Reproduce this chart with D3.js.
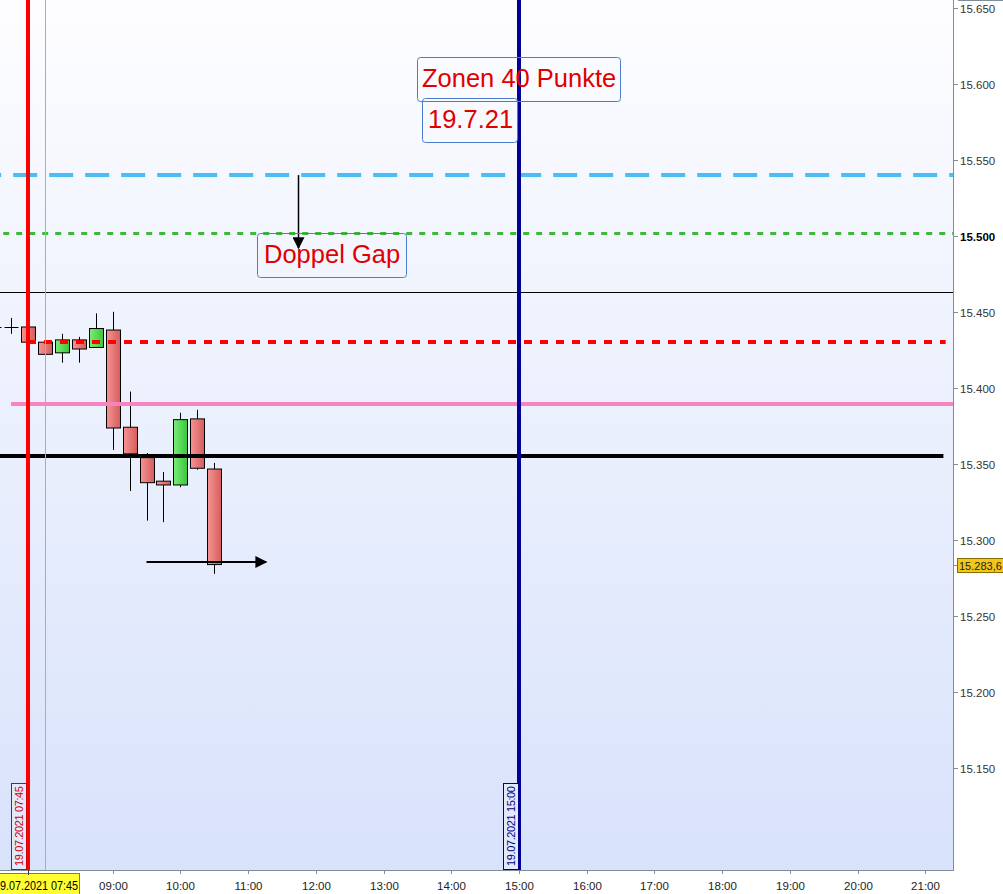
<!DOCTYPE html>
<html>
<head>
<meta charset="utf-8">
<script src="https://cdn.jsdelivr.net/npm/d3@7"></script>
<style>
  body { margin: 0; background: #fff; }
  svg { display: block; font-family: "Liberation Sans", Arial, sans-serif; }
</style>
</head>
<body>
<div id="chart"></div>
<script>
// candle data, 15 minute bars on 19.07.2021
const candleTimes = ['07:15','07:30','07:45','08:00','08:15','08:30','08:45','09:00','09:15','09:30','09:45','10:00','10:15','10:30']
const opens  = [15440, 15440, 15440, 15430, 15423, 15431.5, 15426.5, 15438, 15374, 15354, 15338.5, 15336, 15379.5, 15346.5]
const highs  = [15440, 15446, 15440, 15449, 15435.5, 15433.5, 15449, 15450, 15397.5, 15357, 15344.5, 15383.5, 15385.5, 15350.5]
const lows   = [15440, 15435.5, 15430, 15416, 15416.5, 15416.5, 15426.5, 15359, 15332, 15312.5, 15311.5, 15334.5, 15346, 15277.5]
const closes = [15440, 15440, 15430, 15422, 15431.5, 15425.5, 15439, 15373.5, 15356.5, 15337.5, 15336, 15379, 15347, 15283.6]

// horizontal levels drawn on the chart
const levelPrices = [15540, 15502, 15463, 15430, 15389.5, 15355]
const levelStart  = ['07:00','07:00','07:00','07:45','07:30','07:00']
const levelEnd    = ['22:00','22:00','22:00','21:18','22:00','21:16']

// vertical time markers
const markerTimes = ['07:45','08:00','15:00']

// price axis ticks and time axis ticks
const priceTicks = [15150, 15200, 15250, 15300, 15350, 15400, 15450, 15500, 15550, 15600, 15650]
const hourTicks = ['09:00','10:00','11:00','12:00','13:00','14:00','15:00','16:00','17:00','18:00','19:00','20:00','21:00']

const lastPrice = 15283.6

// text notes
const noteTexts = ['Zonen 40 Punkte', '19.7.21', 'Doppel Gap']
const noteTimes = ['13:30', '13:34', '11:08']
const notePrices = [15618, 15591, 15502]

const width = 1003
const height = 894
const plotW = 953
const plotH = 870

const parseT = d3.timeParse('%Y-%m-%d %H:%M')
const T = s => parseT('2021-07-19 ' + s)

const x = d3.scaleTime()
  .domain([T('07:45'), T('15:00')])
  .range([28, 519])
const y = d3.scaleLinear()
  .domain([15650, 15150])
  .range([8, 767.5])

const svg = d3.select('#chart').append('svg')
  .attr('width', width)
  .attr('height', height)

const defs = svg.append('defs')
const bg = defs.append('linearGradient').attr('id', 'bg').attr('x1', 0).attr('y1', 0).attr('x2', 0).attr('y2', 1)
bg.append('stop').attr('offset', 0).attr('stop-color', '#fdfdff')
bg.append('stop').attr('offset', 1).attr('stop-color', '#d8e2fb')
const redG = defs.append('linearGradient').attr('id', 'redg')
redG.append('stop').attr('offset', 0).attr('stop-color', '#f59494')
redG.append('stop').attr('offset', 1).attr('stop-color', '#d65c5c')
const greenG = defs.append('linearGradient').attr('id', 'greeng')
greenG.append('stop').attr('offset', 0).attr('stop-color', '#78ee78')
greenG.append('stop').attr('offset', 1).attr('stop-color', '#3cc43c')
defs.append('clipPath').attr('id', 'clip')
  .append('rect').attr('width', plotW).attr('height', plotH)
defs.append('marker').attr('id', 'arr')
  .attr('viewBox', '0 0 10 10').attr('refX', 9).attr('refY', 5)
  .attr('markerWidth', 13).attr('markerHeight', 12).attr('markerUnits', 'userSpaceOnUse')
  .attr('orient', 'auto')
  .append('path').attr('d', 'M0,0 L10,5 L0,10 z').attr('fill', '#000')

svg.append('rect').attr('width', plotW).attr('height', plotH).attr('fill', 'url(#bg)')

const plot = svg.append('g').attr('clip-path', 'url(#clip)')

// candles
const bw = 14
candleTimes.forEach((t, i) => {
  const cx = Math.round(x(T(t))) + 0.5
  const o = opens[i], c = closes[i]
  plot.append('line')
    .attr('x1', cx).attr('x2', cx)
    .attr('y1', y(highs[i])).attr('y2', y(lows[i]))
    .attr('stroke', '#000').attr('stroke-width', 1)
  if (o === c) {
    plot.append('line')
      .attr('x1', cx - bw / 2).attr('x2', cx + bw / 2)
      .attr('y1', Math.round(y(o)) + 0.5).attr('y2', Math.round(y(o)) + 0.5)
      .attr('stroke', '#000').attr('stroke-width', 1)
  } else {
    const top = y(Math.max(o, c)), bot = y(Math.min(o, c))
    plot.append('rect')
      .attr('x', cx - bw / 2).attr('y', top)
      .attr('width', bw).attr('height', Math.max(2, bot - top))
      .attr('fill', c > o ? 'url(#greeng)' : 'url(#redg)')
      .attr('stroke', '#000').attr('stroke-width', 1)
  }
})

// horizontal levels, drawn over the candles
const levelStyles = [
  { c: '#4cbdf3', w: 4, dash: '24,12' },
  { c: '#3db83d', w: 3, dash: '6,7' },
  { c: '#000000', w: 1, dash: null },
  { c: '#ff0000', w: 4, dash: '8,8' },
  { c: '#f783c0', w: 4, dash: null },
  { c: '#000000', w: 4, dash: null }
]
levelPrices.forEach((p, i) => {
  const st = levelStyles[i]
  const ly = st.w % 2 ? Math.round(y(p)) + 0.5 : Math.round(y(p))
  plot.append('line')
    .attr('x1', x(T(levelStart[i]))).attr('x2', Math.min(plotW, x(T(levelEnd[i]))))
    .attr('y1', ly).attr('y2', ly)
    .attr('stroke', st.c).attr('stroke-width', st.w)
    .attr('stroke-dasharray', st.dash)
})

// vertical markers
const markerStyles = [
  { c: '#ff0000', w: 4 },
  { c: '#f29090', w: 1 },
  { c: '#000099', w: 4 }
]
markerTimes.forEach((t, i) => {
  const mx = markerStyles[i].w % 2 ? Math.round(x(T(t))) + 0.5 : Math.round(x(T(t)))
  plot.append('line')
    .attr('x1', mx).attr('x2', mx)
    .attr('y1', 0).attr('y2', plotH)
    .attr('stroke', markerStyles[i].c).attr('stroke-width', markerStyles[i].w)
})

// arrows
plot.append('line')
  .attr('x1', Math.round(x(T('11:44'))) + 0.5).attr('x2', Math.round(x(T('11:44'))) + 0.5)
  .attr('y1', y(15540)).attr('y2', y(15492))
  .attr('stroke', '#000').attr('stroke-width', 1.5)
  .attr('marker-end', 'url(#arr)')
plot.append('line')
  .attr('x1', x(T('09:30'))).attr('x2', x(T('11:16')))
  .attr('y1', Math.round(y(15285.5))).attr('y2', Math.round(y(15285.5)))
  .attr('stroke', '#000').attr('stroke-width', 2)
  .attr('marker-end', 'url(#arr)')

// notes
const noteWidths = [203, 95, 149]
const notePad = [5, 6, 7]
noteTexts.forEach((txt, i) => {
  const bx = Math.round(x(T(noteTimes[i]))), by = Math.round(y(notePrices[i]))
  const g = plot.append('g')
  g.append('rect')
    .attr('x', bx + 0.5).attr('y', by + 0.5)
    .attr('width', noteWidths[i]).attr('height', 44)
    .attr('rx', 3)
    .attr('fill', 'none').attr('stroke', '#4b7bd0').attr('stroke-width', 1)
  g.append('text')
    .attr('x', bx + notePad[i]).attr('y', by + 30)
    .attr('font-size', 25.5).attr('fill', '#e00000')
    .text(txt)
})

// vertical date labels at the markers
const vLabels = [
  { t: '07:45', c: '#d00000', dx: -17 },
  { t: '15:00', c: '#000080', dx: -16 }
]
vLabels.forEach(l => {
  const lx = Math.round(x(T(l.t))) + l.dx
  const g = svg.append('g').attr('transform', `translate(${lx},${plotH}) rotate(-90)`)
  g.append('rect').attr('x', 0.5).attr('y', 0.5).attr('width', 86).attr('height', 15)
    .attr('fill', '#e2e9fc').attr('stroke', l.c)
  g.append('text').attr('x', 4).attr('y', 12).attr('font-size', 11).attr('fill', l.c)
    .attr('textLength', 80).attr('lengthAdjust', 'spacing')
    .text('19.07.2021 ' + l.t)
})

// axes lines
svg.append('line').attr('x1', plotW + 0.5).attr('x2', plotW + 0.5).attr('y1', 0).attr('y2', plotH + 1)
  .attr('stroke', '#7f8c99')
svg.append('line').attr('x1', 0).attr('x2', plotW + 1).attr('y1', plotH + 0.5).attr('y2', plotH + 0.5)
  .attr('stroke', '#7f8c99')
svg.append('line').attr('x1', 958).attr('x2', width).attr('y1', 0.5).attr('y2', 0.5)
  .attr('stroke', '#7f8c99')

// price axis
const yAxis = svg.append('g')
priceTicks.forEach(p => {
  const py = Math.round(y(p)) + 0.5
  yAxis.append('line').attr('x1', plotW).attr('x2', plotW + 5).attr('y1', py).attr('y2', py).attr('stroke', '#7f8c99')
  yAxis.append('text').attr('x', 960).attr('y', py + 4)
    .attr('font-size', 11.5)
    .attr('font-weight', p === 15500 ? 'bold' : 'normal')
    .attr('fill', p === 15500 ? '#000' : '#333')
    .text(d3.format(',')(p).replace(',', '.'))
})

// last price box
const lpY = Math.round(y(lastPrice))
yAxis.append('line').attr('x1', plotW).attr('x2', plotW + 5).attr('y1', lpY + 0.5).attr('y2', lpY + 0.5).attr('stroke', '#7f8c99')
yAxis.append('rect').attr('x', 957.5).attr('y', lpY - 6.5).attr('width', 46).attr('height', 14)
  .attr('fill', '#f4c61a').attr('stroke', '#8a6d00')
yAxis.append('text').attr('x', 959).attr('y', lpY + 4.5).attr('font-size', 11).attr('fill', '#222')
  .text('15.283,6')

// time axis
const xAxis = svg.append('g')
hourTicks.forEach(h => {
  const hx = Math.round(x(T(h))) + 0.5
  xAxis.append('line').attr('x1', hx).attr('x2', hx).attr('y1', plotH).attr('y2', plotH + 4).attr('stroke', '#7f8c99')
  xAxis.append('text').attr('x', hx).attr('y', 890).attr('text-anchor', 'middle')
    .attr('font-size', 11.5).attr('fill', '#222').text(h)
})
const startX = Math.round(x(T('07:45'))) + 0.5
xAxis.append('rect').attr('x', -20).attr('y', 873.5).attr('width', 99.5).attr('height', 22)
  .attr('fill', '#ffff33').attr('stroke', '#777')
xAxis.append('line').attr('x1', startX).attr('x2', startX).attr('y1', plotH).attr('y2', plotH + 5).attr('stroke', '#333')
xAxis.append('text').attr('x', -6).attr('y', 890)
  .attr('font-size', 12).attr('fill', '#000')
  .attr('textLength', 84).attr('lengthAdjust', 'spacingAndGlyphs')
  .text('19.07.2021 07:45')
</script>
</body>
</html>
